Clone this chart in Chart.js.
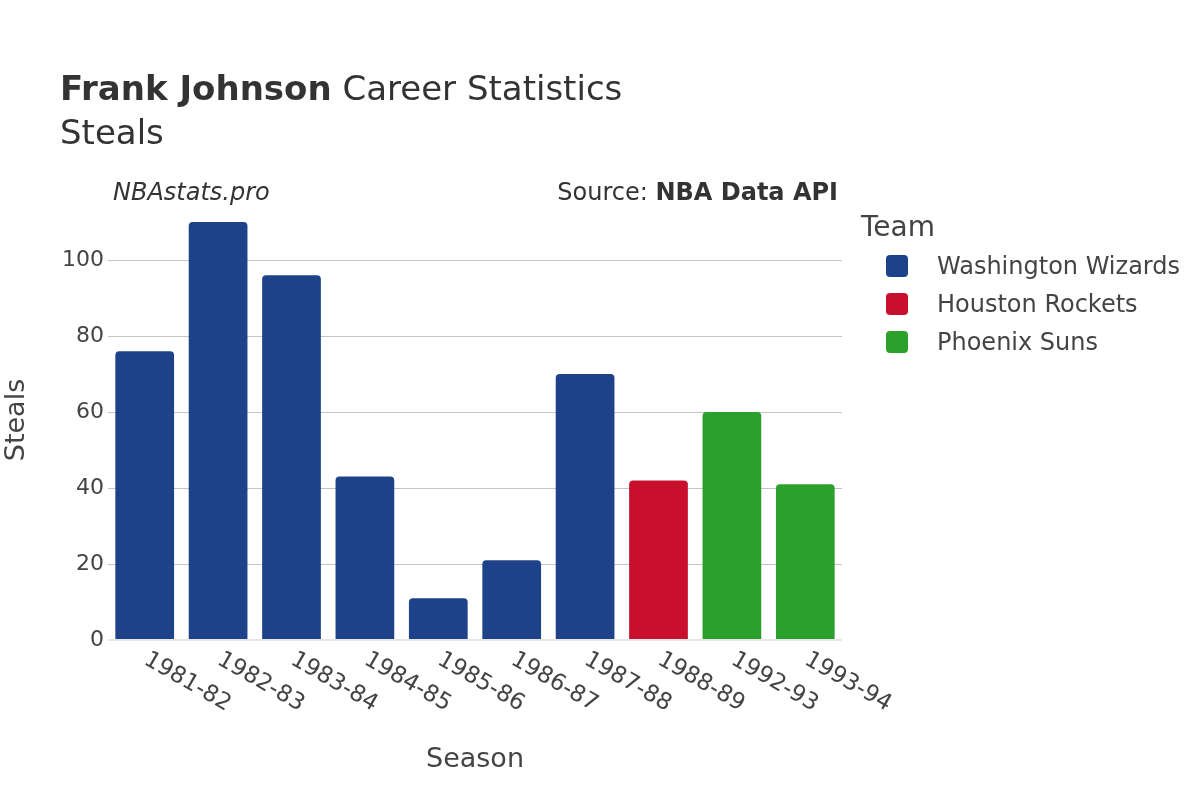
<!DOCTYPE html>
<html>
<head>
<meta charset="utf-8">
<script src="https://cdn.jsdelivr.net/npm/chart.js@4"></script>
<style>
  body { margin: 0; background: #fff; }
  #wrap { position: relative; width: 1200px; height: 800px; font-family: 'DejaVu Sans', sans-serif; color: #444; }
  #wrap canvas { position: absolute; left: 0; top: 0; }
  .txt { position: absolute; white-space: nowrap; line-height: 1; }
  .legend-item { position: absolute; left: 886px; height: 22px; }
  .legend-item span.box { position: absolute; left: 0; top: 0; width: 22px; height: 22px; border-radius: 4px; }
  .legend-item span.lab { position: absolute; left: 51px; top: -1px; font-size: 24px; line-height: 24px; white-space: nowrap; }
</style>
</head>
<body>
<div id="wrap">
  <canvas id="myChart" width="1200" height="800"></canvas>
  <div class="txt" style="left:60px; top:71px; font-size:34px; color:#333;"><b>Frank Johnson</b> Career Statistics</div>
  <div class="txt" style="left:60px; top:115px; font-size:34px; color:#333;">Steals</div>
  <div class="txt" style="left:113px; top:180px; font-size:24px; font-style:italic; color:#333;">NBAstats.pro</div>
  <div class="txt" style="right:362px; top:180px; font-size:24px; color:#333;">Source: <b>NBA Data API</b></div>
  <div class="txt" style="left:861px; top:213px; font-size:28px;">Team</div>
  <div id="legend"></div>
</div>
<script>
const seasons = ['1981-82', '1982-83', '1983-84', '1984-85', '1985-86', '1986-87', '1987-88', '1988-89', '1992-93', '1993-94'];
const teamOf = ['Washington Wizards', 'Washington Wizards', 'Washington Wizards', 'Washington Wizards', 'Washington Wizards', 'Washington Wizards', 'Washington Wizards', 'Houston Rockets', 'Phoenix Suns', 'Phoenix Suns'];
const steals = [76, 110, 96, 43, 11, 21, 70, 42, 60, 41];
const teams = ['Washington Wizards', 'Houston Rockets', 'Phoenix Suns'];
const teamColors = ['#1d428a', '#c8102e', '#2ca02c'];
const yTicks = [0, 20, 40, 60, 80, 100];

const ctx = document.getElementById('myChart');

// one dataset per team, nulls where the team did not play
var datasets = teams.map(function (t, i) {
  return {
    label: t,
    data: steals.map(function (v, j) { return teamOf[j] === t ? v : null; }),
    backgroundColor: teamColors[i],
    borderRadius: { topLeft: 4, topRight: 4 },
    borderSkipped: 'bottom',
    barPercentage: 0.8,
    categoryPercentage: 1.0
  };
});

// legend in html
var legendDiv = document.getElementById('legend');
teams.forEach(function (t, i) {
  var item = document.createElement('div');
  item.className = 'legend-item';
  item.style.top = (255 + i * 38) + 'px';
  item.innerHTML = '<span class="box" style="background:' + teamColors[i] + '"></span><span class="lab">' + t + '</span>';
  legendDiv.appendChild(item);
});

// x labels rotated clockwise like the original
const slantedLabels = {
  id: 'slantedLabels',
  afterDraw(chart) {
    const x = chart.scales.x;
    const c = chart.ctx;
    c.save();
    c.font = '23px "DejaVu Sans"';
    c.fillStyle = '#444';
    c.textAlign = 'left';
    c.textBaseline = 'middle';
    seasons.forEach(function (s, i) {
      const px = x.getPixelForValue(i);
      c.save();
      c.translate(px + 1, 658);
      c.rotate(Math.PI / 6);
      c.fillText(s, 0, 0);
      c.restore();
    });
    c.restore();
  }
};

Chart.defaults.font.family = 'DejaVu Sans';
Chart.defaults.color = '#444';

new Chart(ctx, {
  type: 'bar',
  data: { labels: seasons, datasets: datasets },
  plugins: [slantedLabels],
  options: {
    responsive: false,
    animation: false,
    layout: { padding: { left: 0, right: 358, top: 200, bottom: 0 } },
    plugins: {
      legend: { display: false },
      tooltip: { enabled: false }
    },
    scales: {
      x: {
        stacked: true,
        grid: { display: false },
        border: { display: false },
        ticks: { display: false },
        title: { display: true, text: 'Season', font: { size: 27 }, color: '#444', padding: { top: 0, bottom: 24 } },
        afterFit(scale) { scale.height = 160; }
      },
      y: {
        stacked: true,
        min: 0,
        max: 115.79,
        border: { display: false },
        afterBuildTicks(scale) { scale.ticks = yTicks.map(function (v) { return { value: v }; }); },
        ticks: { font: { size: 22 }, color: '#444', padding: 4 },
        grid: {
          drawTicks: false,
          color: function (c) { return c.tick.value === 0 ? '#e6e6e6' : '#c4c4c4'; },
          lineWidth: function (c) { return c.tick.value === 0 ? 2 : 1; }
        },
        title: { display: true, text: 'Steals', font: { size: 27 }, color: '#444', padding: { top: 1, bottom: 0 } },
        afterFit(scale) { scale.width = 108; }
      }
    }
  }
});
</script>
</body>
</html>
